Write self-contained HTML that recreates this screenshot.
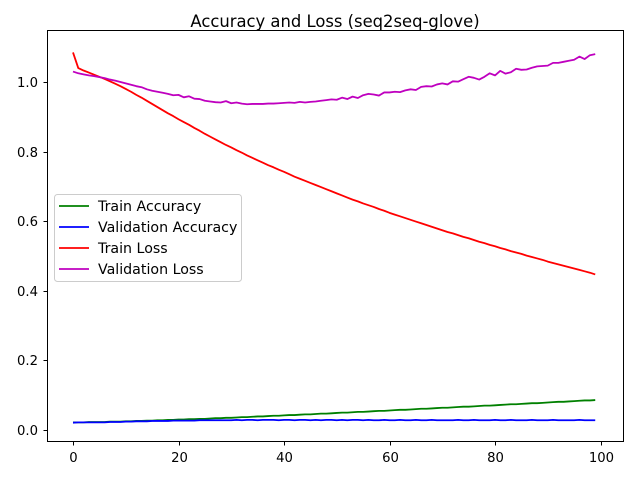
<!DOCTYPE html>
<html><head><meta charset="utf-8"><style>
html,body{margin:0;padding:0;background:#fff;}
svg text{font-family:"DejaVu Sans","Liberation Sans",sans-serif;fill:#000;}
</style></head><body>
<svg id="chart" width="640" height="480" viewBox="0 0 640 480" xmlns="http://www.w3.org/2000/svg">
<rect x="0" y="0" width="640" height="480" fill="#fff"/>
<text x="335" y="27" font-size="16.4" text-anchor="middle">Accuracy and Loss (seq2seq-glove)</text>
<g id="series"></g>
<g id="axes"></g>
<g>
<rect x="54.5" y="194.5" width="187" height="87" rx="3" fill="#fff" fill-opacity="0.8" stroke="#ccc"/>
<g><line x1="59" y1="206" x2="89" y2="206" stroke="#008000" stroke-width="1.8"/><text x="98" y="211" font-size="14.2">Train Accuracy</text></g>
<g><line x1="59" y1="227" x2="89" y2="227" stroke="#0000ff" stroke-width="1.8"/><text x="98" y="232" font-size="14.2">Validation Accuracy</text></g>
<g><line x1="59" y1="248" x2="89" y2="248" stroke="#ff0000" stroke-width="1.8"/><text x="98" y="253" font-size="14.2">Train Loss</text></g>
<g><line x1="59" y1="269" x2="89" y2="269" stroke="#bf00bf" stroke-width="1.8"/><text x="98" y="274" font-size="14.2">Validation Loss</text></g>
</g>
</svg>
<script>
const xTicks = [0,20,40,60,80,100];
const yTicks = [0.0,0.2,0.4,0.6,0.8,1.0];
const yTickLabels = ["0.0","0.2","0.4","0.6","0.8","1.0"];
const trainAcc = [.022,.022,.022,.023,.023,.023,.023,.024,.024,.024,
.025,.025,.026,.026,.027,.027,.028,.028,.029,.029,
.030,.030,.031,.031,.032,.032,.033,.034,.034,.035,
.035,.036,.037,.037,.038,.039,.039,.040,.041,.041,
.042,.043,.043,.044,.045,.045,.046,.047,.047,.048,
.049,.050,.050,.051,.052,.052,.053,.054,.055,.055,
.056,.057,.058,.058,.059,.060,.061,.061,.062,.063,
.064,.064,.065,.066,.067,.067,.068,.069,.070,.070,
.071,.072,.073,.074,.074,.075,.076,.077,.077,.078,
.079,.080,.081,.081,.082,.083,.084,.085,.085,.086];
const valAcc = [.021,.022,.022,.022,.022,.022,.022,.023,.023,.023,
.024,.024,.025,.025,.025,.026,.026,.026,.026,.027,
.027,.027,.027,.027,.028,.028,.028,.028,.028,.028,
.028,.029,.028,.029,.029,.028,.029,.029,.029,.028,
.029,.029,.028,.029,.029,.028,.029,.028,.029,.029,
.028,.029,.028,.029,.029,.028,.029,.028,.028,.029,
.028,.028,.029,.028,.028,.029,.028,.028,.029,.028,
.028,.028,.028,.029,.028,.028,.029,.028,.028,.028,
.029,.028,.028,.029,.028,.028,.028,.029,.028,.028,
.028,.029,.028,.028,.028,.028,.029,.028,.028,.028];
const trainLoss = [1.085,1.040,1.033,1.027,1.021,1.015,1.009,1.002,0.995,0.988,
0.980,0.972,0.963,0.955,0.946,0.937,0.928,0.919,0.910,0.902,
0.893,0.885,0.877,0.868,0.860,0.851,0.843,0.835,0.827,0.819,
0.812,0.804,0.797,0.789,0.782,0.775,0.768,0.761,0.755,0.748,
0.742,0.735,0.728,0.722,0.716,0.710,0.704,0.698,0.692,0.686,
0.680,0.674,0.668,0.662,0.657,0.651,0.646,0.641,0.635,0.630,
0.624,0.619,0.614,0.609,0.604,0.599,0.594,0.589,0.584,0.579,
0.574,0.569,0.565,0.560,0.555,0.551,0.546,0.541,0.537,0.532,
0.528,0.523,0.519,0.514,0.510,0.506,0.501,0.497,0.493,0.489,
0.484,0.480,0.476,0.472,0.468,0.464,0.460,0.456,0.452,0.447];
const valLoss = [1.030,1.025,1.022,1.019,1.017,1.014,1.011,1.007,1.004,1.000,
0.996,0.992,0.988,0.985,0.979,0.975,0.972,0.969,0.966,0.962,
0.963,0.956,0.959,0.952,0.951,0.946,0.944,0.942,0.941,0.945,
0.939,0.941,0.938,0.936,0.937,0.937,0.937,0.938,0.938,0.939,
0.940,0.941,0.940,0.943,0.941,0.943,0.944,0.946,0.948,0.950,
0.949,0.955,0.951,0.958,0.954,0.962,0.966,0.964,0.961,0.970,
0.970,0.972,0.971,0.976,0.979,0.977,0.986,0.988,0.987,0.993,
0.996,0.993,1.002,1.001,1.008,1.015,1.012,1.007,1.015,1.025,
1.019,1.032,1.024,1.028,1.038,1.035,1.036,1.041,1.045,1.046,
1.047,1.055,1.055,1.058,1.061,1.064,1.073,1.066,1.077,1.080];

const NS='http://www.w3.org/2000/svg';
const L=47.5,R=623.5,T=30.5,B=441.5;
function xs(v){return 73+v*5.275;}
function ys(v){return 430-v*348;}
const sg=document.getElementById('series');
function drawLine(arr,color,name){
  const p=document.createElementNS(NS,'polyline');
  p.setAttribute('points',arr.map((v,i)=>xs(i).toFixed(2)+','+ys(v).toFixed(2)).join(' '));
  p.setAttribute('fill','none');p.setAttribute('stroke',color);p.setAttribute('stroke-width','1.8');
  p.setAttribute('stroke-linejoin','round');
  
  
  sg.appendChild(p);
}
drawLine(trainAcc,'#008000','train-accuracy-line');
drawLine(valAcc,'#0000ff','validation-accuracy-line');
drawLine(trainLoss,'#ff0000','train-loss-line');
drawLine(valLoss,'#bf00bf','validation-loss-line');

const ag=document.getElementById('axes');
const frame=document.createElementNS(NS,'rect');
frame.setAttribute('x',L);frame.setAttribute('y',T);frame.setAttribute('width',R-L);frame.setAttribute('height',B-T);
frame.setAttribute('fill','none');frame.setAttribute('stroke','#000');frame.setAttribute('stroke-width','1');


ag.appendChild(frame);
xTicks.forEach(t=>{
  const x=Math.round(xs(t))+0.5;
  const l=document.createElementNS(NS,'line');
  l.setAttribute('x1',x);l.setAttribute('x2',x);l.setAttribute('y1',B);l.setAttribute('y2',B+4);l.setAttribute('stroke','#000');
  
  
  ag.appendChild(l);
  const tx=document.createElementNS(NS,'text');
  tx.setAttribute('x',x);tx.setAttribute('y',462);tx.setAttribute('font-size','13.2');tx.setAttribute('text-anchor','middle');
  tx.textContent=String(t);
  
  
  ag.appendChild(tx);
});
yTicks.forEach((t,i)=>{
  const y=Math.round(ys(t))+0.5;
  const l=document.createElementNS(NS,'line');
  l.setAttribute('x1',L-4);l.setAttribute('x2',L);l.setAttribute('y1',y);l.setAttribute('y2',y);l.setAttribute('stroke','#000');
  
  
  ag.appendChild(l);
  const tx=document.createElementNS(NS,'text');
  tx.setAttribute('x',38);tx.setAttribute('y',y+4.5);tx.setAttribute('font-size','13.2');tx.setAttribute('text-anchor','end');
  tx.textContent=yTickLabels[i];
  
  
  ag.appendChild(tx);
});
</script>
</body></html>
